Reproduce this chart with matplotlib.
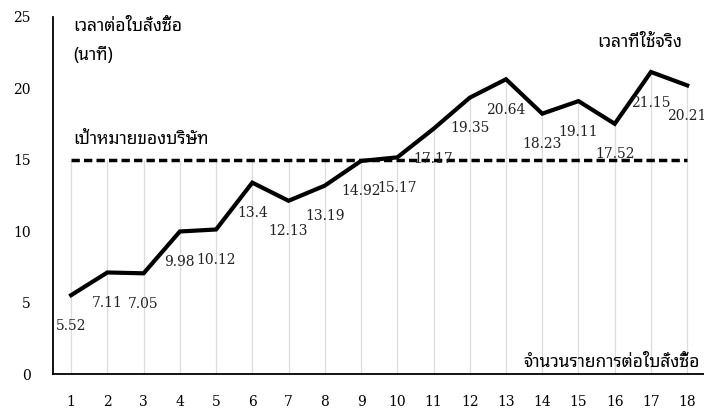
import matplotlib
matplotlib.use("Agg")
import numpy as np
import matplotlib.pyplot as plt

# items per purchase order (x) and minutes per order (y)
items = list(range(1, 19))
actual_minutes = [5.52, 7.11, 7.05, 9.98, 10.12, 13.4, 12.13, 13.19, 14.92,
                  15.17, 17.17, 19.35, 20.64, 18.23, 19.11, 17.52, 21.15, 20.21]
target_minutes = [15] * 18
y_ticks = [0, 5, 10, 15, 20, 25]

thai_font = ["Noto Sans Thai Looped", "DejaVu Sans"]
num_font = ["DejaVu Serif"]

fig = plt.figure(figsize=(7.04, 4.11), dpi=100)
ax = fig.add_axes([53 / 704, 1 - 374 / 411, 18 * 36.24 / 704, 357 / 411])
ax.set_xlim(0.5, 18.5)
ax.set_ylim(0, 25)

# drop lines from the higher of the two series down to the axis
tops = np.maximum(actual_minutes, target_minutes)
ax.vlines(items, 0, tops, color="#dcdcdc", lw=0.9, zorder=1)

ax.plot(items, target_minutes, color="black", lw=2.5, ls=(0, (2.4, 1.2)), zorder=2)
ax.plot(items, actual_minutes, color="black", lw=3.0, solid_joinstyle="miter", zorder=3)

for x, v in zip(items, actual_minutes):
    ax.annotate(f"{v:g}", (x, v), xytext=(0, -22), textcoords="offset points",
                ha="center", va="center", fontsize=10, family=num_font, color="#222222")

for s in ["top", "right"]:
    ax.spines[s].set_visible(False)
ax.spines["left"].set_linewidth(1.3)
ax.spines["bottom"].set_linewidth(1.3)

ax.set_xticks(items)
ax.set_xticklabels([str(i) for i in items], family=num_font, fontsize=10)
ax.set_yticks(y_ticks)
ax.set_yticklabels([str(t) for t in y_ticks], family=num_font, fontsize=10)
ax.tick_params(axis="x", length=0, pad=15)
ax.tick_params(axis="y", length=0, pad=16)

ax.text(1.05, 24.37, "เวลาต่อใบสั่งซื้อ", family=thai_font, fontsize=12.5, va="center")
ax.text(1.05, 22.34, "(นาที)", family=thai_font, fontsize=12.5, va="center")
ax.text(1.05, 16.46, "เป้าหมายของบริษัท", family=thai_font, fontsize=12.5, va="center")
ax.text(15.51, 23.25, "เวลาที่ใช้จริง", family=thai_font, fontsize=12.5, va="center")
ax.text(18.36, 0.84, "จำนวนรายการต่อใบสั่งซื้อ", family=thai_font, fontsize=12.5,
        va="center", ha="right")

fig.savefig("out.png", dpi=100)
